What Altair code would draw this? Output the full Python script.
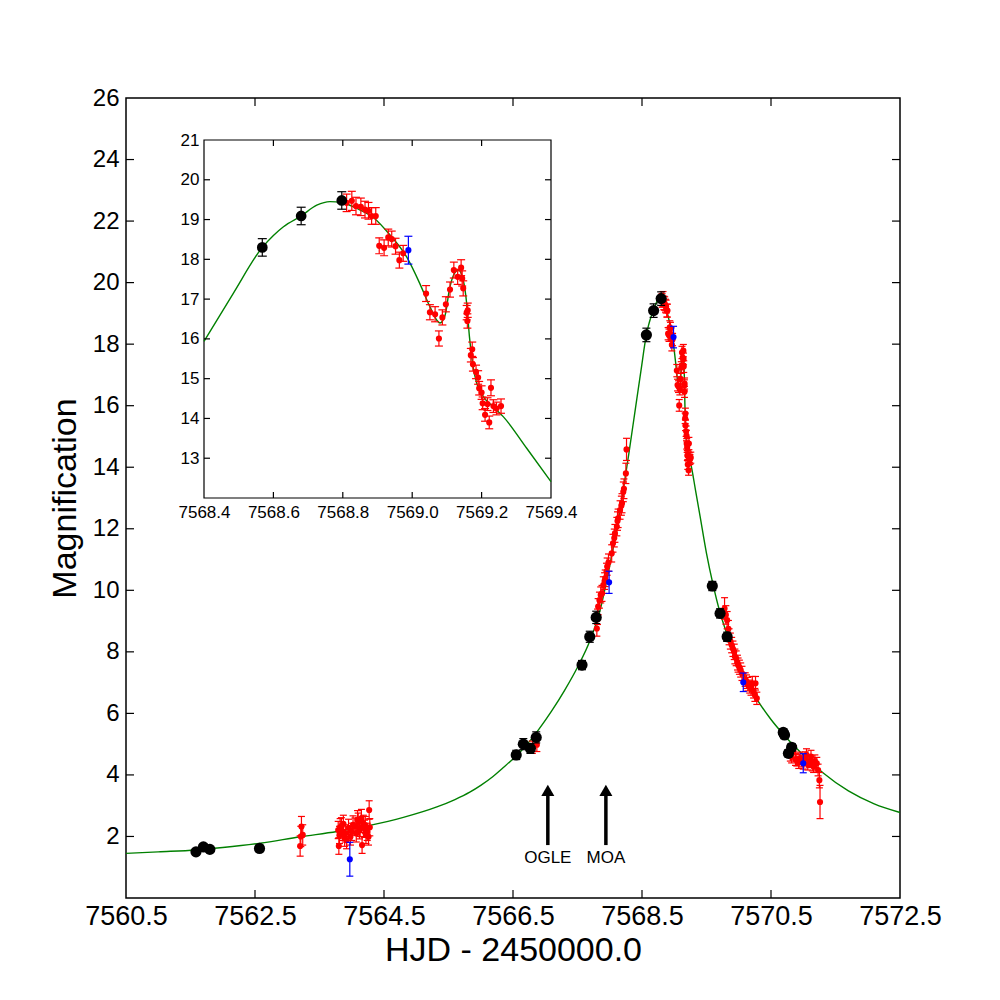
import altair as alt
import pandas as pd

FONT = "Liberation Sans"

# ---------------- values ----------------
# black (large) points
black_t = [7561.585, 7561.70, 7561.80, 7562.57, 7566.55, 7566.66, 7566.77, 7566.86,
           7567.57, 7567.69, 7567.79, 7568.568, 7568.68, 7568.797, 7569.59, 7569.71,
           7569.82, 7570.69, 7570.71, 7570.82, 7570.77]
black_m = [1.50, 1.66, 1.58, 1.61, 4.65, 5.00, 4.86, 5.22,
           7.57, 8.49, 9.12, 18.30, 19.09, 19.48, 10.14, 9.25,
           8.49, 5.38, 5.30, 4.90, 4.70]
black_e = [0.08, 0.08, 0.08, 0.10, 0.15, 0.18, 0.16, 0.18,
           0.15, 0.18, 0.20, 0.22, 0.22, 0.22, 0.15, 0.15,
           0.15, 0.12, 0.12, 0.12, 0.12]

# red points
red_t = [7563.20, 7563.21, 7563.22, 7563.24,
         7563.79, 7563.80, 7563.81, 7563.82, 7563.84, 7563.86, 7563.87, 7563.89, 7563.90, 7563.92,
         7563.95, 7563.98, 7564.00, 7564.02, 7564.05, 7564.07, 7564.09, 7564.10, 7564.12, 7564.13,
         7564.15, 7564.16, 7564.18, 7564.20, 7564.21, 7564.22, 7564.24, 7564.26, 7564.27, 7564.28,
         7566.80, 7566.87,
         7567.80, 7567.81, 7567.82, 7567.84, 7567.86, 7567.88, 7567.90, 7567.92, 7567.93, 7567.95,
         7567.96, 7567.98, 7568.03, 7568.05, 7568.07, 7568.08, 7568.11, 7568.12, 7568.13, 7568.16,
         7568.18, 7568.19, 7568.21, 7568.22, 7568.25, 7568.26,
         7568.811, 7568.826, 7568.838, 7568.852, 7568.864, 7568.874, 7568.883, 7568.895, 7568.905,
         7568.919, 7568.931, 7568.941, 7568.952, 7568.963, 7568.974, 7569.040, 7569.051, 7569.066,
         7569.077, 7569.087, 7569.097, 7569.109, 7569.120, 7569.131, 7569.141, 7569.144, 7569.147,
         7569.157, 7569.160, 7569.159, 7569.173, 7569.169, 7569.175, 7569.184, 7569.190, 7569.193,
         7569.200, 7569.203, 7569.210, 7569.217, 7569.222, 7569.227, 7569.234, 7569.243, 7569.256,
         7569.78, 7569.80, 7569.82, 7569.84, 7569.85, 7569.87, 7569.89, 7569.91, 7569.93, 7569.94,
         7569.96, 7569.98, 7569.99, 7570.01, 7570.03, 7570.05, 7570.10, 7570.12, 7570.14, 7570.17,
         7570.19, 7570.21, 7570.23, 7570.25, 7570.26, 7570.28,
         7570.80, 7570.82, 7570.85, 7570.88, 7570.90, 7570.93, 7570.95, 7570.98, 7571.00, 7571.03,
         7571.05, 7571.07, 7571.10, 7571.12, 7571.14, 7571.16, 7571.18, 7571.21, 7571.23, 7571.25,
         7571.26]
red_m = [1.69, 2.00, 2.32, 2.05,
         2.21, 1.69, 2.05, 2.30, 2.32, 2.15, 2.41, 1.95, 2.10, 1.88,
         2.28, 1.99, 2.15, 2.38, 2.32, 2.10, 2.55, 2.48, 2.20, 2.28,
         2.59, 1.72, 2.41, 2.25, 2.37, 2.05, 2.15, 1.99, 2.86, 2.30,
         4.90, 4.98,
         8.76, 9.14, 9.47, 9.68, 9.85, 9.90, 10.17, 10.30, 10.39, 10.61,
         10.77, 10.90, 11.20, 11.53, 11.70, 11.85, 12.07, 12.25, 12.34, 12.61,
         12.75, 12.83, 13.20, 13.30, 13.80, 14.58,
         19.42, 19.47, 19.34, 19.32, 19.25, 19.22, 19.09, 19.09, 18.34,
         18.29, 18.55, 18.51, 18.33, 17.98, 18.15, 17.14, 16.67, 16.62,
         16.01, 16.54, 16.87, 17.24, 17.73, 17.56, 17.79, 17.52, 17.27,
         16.66, 16.72, 16.45, 15.74, 15.59, 15.36, 15.17, 15.03, 14.76,
         14.65, 14.38, 14.09, 14.36, 13.90, 14.77, 14.31, 14.25, 14.31,
         9.41, 9.20, 9.03, 8.75, 8.49, 8.35, 8.22, 8.10, 8.00, 7.85,
         7.79, 7.65, 7.57, 7.50, 7.41, 7.30, 7.10, 7.03, 6.95, 6.87,
         6.80, 6.98, 6.71, 6.60, 6.98, 6.49,
         4.65, 4.59, 4.75, 4.50, 4.48, 4.40, 4.54, 4.45, 4.38, 4.55,
         4.65, 4.35, 4.43, 4.60, 4.32, 4.27, 4.45, 4.38, 4.16, 3.83,
         3.12]
red_e = [0.33, 0.33, 0.33, 0.33,
         0.28, 0.27, 0.28, 0.28, 0.29, 0.28, 0.28, 0.27, 0.28, 0.28,
         0.28, 0.27, 0.28, 0.29, 0.28, 0.28, 0.29, 0.28, 0.28, 0.28,
         0.29, 0.27, 0.28, 0.28, 0.28, 0.28, 0.28, 0.27, 0.30, 0.28,
         0.20, 0.22,
         0.25, 0.25, 0.26, 0.26, 0.26, 0.26, 0.27, 0.27, 0.27, 0.27,
         0.28, 0.28, 0.28, 0.29, 0.29, 0.29, 0.30, 0.30, 0.30, 0.30,
         0.31, 0.31, 0.32, 0.32, 0.33, 0.36,
         0.22, 0.24, 0.22, 0.22, 0.21, 0.21, 0.21, 0.21, 0.20,
         0.20, 0.21, 0.20, 0.20, 0.20, 0.20, 0.20, 0.19, 0.19,
         0.19, 0.19, 0.19, 0.19, 0.20, 0.19, 0.20, 0.19, 0.19,
         0.18, 0.18, 0.18, 0.18, 0.17, 0.17, 0.17, 0.17, 0.17,
         0.17, 0.16, 0.16, 0.16, 0.16, 0.20, 0.16, 0.16, 0.18,
         0.35, 0.30, 0.28, 0.27, 0.26, 0.26, 0.25, 0.25, 0.25, 0.24,
         0.24, 0.24, 0.23, 0.23, 0.23, 0.23, 0.22, 0.22, 0.22, 0.21,
         0.21, 0.22, 0.21, 0.21, 0.22, 0.20,
         0.20, 0.20, 0.20, 0.19, 0.19, 0.19, 0.20, 0.19, 0.19, 0.20,
         0.20, 0.19, 0.19, 0.20, 0.19, 0.19, 0.20, 0.19, 0.19, 0.25,
         0.54]

# blue points
blue_t = [7563.97, 7567.99, 7568.989, 7570.07, 7571.00]
blue_m = [1.26, 10.26, 18.23, 7.01, 4.38]
blue_e = [0.55, 0.36, 0.35, 0.30, 0.31]

# model curve (green)
model_left_t = [7560.5, 7561.0, 7561.585, 7562.0, 7562.58, 7563.2, 7563.77, 7564.28, 7564.8,
                7565.32, 7565.6, 7565.83, 7566.0, 7566.19, 7566.35, 7566.5, 7566.7, 7566.9,
                7567.1, 7567.3, 7567.5, 7567.7, 7567.85, 7568.0, 7568.15, 7568.3]
model_left_m = [1.45, 1.50, 1.56, 1.64, 1.78, 1.99, 2.16, 2.36, 2.62,
                2.96, 3.20, 3.44, 3.66, 3.95, 4.24, 4.52, 4.95, 5.48,
                6.08, 6.75, 7.50, 8.40, 9.35, 10.80, 12.50, 14.50]
inset_model_t = [7568.40, 7568.484, 7568.568, 7568.60, 7568.629, 7568.68, 7568.725, 7568.763,
                 7568.797, 7568.84, 7568.888, 7568.936, 7568.984, 7569.022, 7569.051, 7569.071,
                 7569.080, 7569.095, 7569.107, 7569.119, 7569.133, 7569.147, 7569.157, 7569.165,
                 7569.174, 7569.186, 7569.205, 7569.234, 7569.263, 7569.330, 7569.40]
inset_model_m = [15.94, 17.14, 18.30, 18.60, 18.82, 19.09, 19.36, 19.45,
                 19.43, 19.28, 19.05, 18.61, 18.06, 17.39, 16.81, 16.47,
                 16.40, 16.60, 17.23, 17.60, 17.73, 17.48, 16.89, 16.05,
                 15.38, 14.88, 14.55, 14.29, 14.04, 13.25, 12.41]
model_right_t = [7569.5, 7569.6, 7569.7, 7569.8, 7569.9, 7570.0, 7570.15, 7570.3, 7570.5,
                 7570.7, 7571.0, 7571.3, 7571.7, 7572.1, 7572.5]
model_right_m = [11.20, 10.20, 9.35, 8.68, 8.12, 7.62, 6.95, 6.40, 5.80,
                 5.30, 4.65, 4.08, 3.48, 3.06, 2.78]

# axes / ticks
main_xdom = [7560.5, 7572.5]
main_ydom = [0, 26]
main_xticks = [7560.5, 7562.5, 7564.5, 7566.5, 7568.5, 7570.5, 7572.5]
main_yticks = [2, 4, 6, 8, 10, 12, 14, 16, 18, 20, 22, 24, 26]
inset_xdom = [7568.4, 7569.4]
inset_ydom = [12, 21]
inset_xticks = [7568.4, 7568.6, 7568.8, 7569.0, 7569.2, 7569.4]
inset_yticks = [13, 14, 15, 16, 17, 18, 19, 20, 21]

# annotations
arrow_t = [7567.04, 7567.94]
arrow_labels = ["OGLE", "MOA"]
arrow_base = [1.72, 1.72]
arrow_top = [3.40, 3.40]
arrow_tip = [3.50, 3.50]
label_m = [1.30, 1.30]

# ---------------- tables ----------------
def pts(t, m, e):
    df = pd.DataFrame({"t": t, "m": m, "e": e})
    df["lo"] = df["m"] - df["e"]
    df["hi"] = df["m"] + df["e"]
    return df

black_df = pts(black_t, black_m, black_e)
red_df = pts(red_t, red_m, red_e)
blue_df = pts(blue_t, blue_m, blue_e)
model_df = pd.DataFrame({"t": model_left_t + inset_model_t + model_right_t,
                         "m": model_left_m + inset_model_m + model_right_m})
inset_model_df = pd.DataFrame({"t": inset_model_t, "m": inset_model_m})
arrows_df = pd.DataFrame({"t": arrow_t, "base": arrow_base, "top": arrow_top,
                          "tip": arrow_tip, "ly": label_m, "label": arrow_labels})

# ---------------- scales and axes ----------------
W, H = 774, 800
mx = alt.Scale(domain=main_xdom, nice=False, zero=False)
my = alt.Scale(domain=main_ydom, nice=False, zero=False)
ix = alt.Scale(domain=inset_xdom, nice=False, zero=False, range=[78, 425])
iy = alt.Scale(domain=inset_ydom, nice=False, zero=False, range=[400, 42])

common = dict(ticks=False, tickSize=0, domain=False, grid=False, labelColor="black",
              labelFont=FONT, labelFlush=False, labelOverlap=False)
main_xaxis = alt.Axis(values=main_xticks, format=".1f", labelFontSize=27, labelPadding=5,
                      title="HJD - 2450000.0", titleFontSize=34, titleFontWeight="normal",
                      titleColor="black", titleFont=FONT, titlePadding=4, **common)
main_yaxis = alt.Axis(values=main_yticks, format="d", labelFontSize=24, labelPadding=7,
                      title="Magnification", titleFontSize=34, titleFontWeight="normal",
                      titleColor="black", titleFont=FONT, titlePadding=10, **common)
inset_xaxis = alt.Axis(orient="bottom", offset=-(H - 400), values=inset_xticks, format=".1f",
                       labelFontSize=17, labelPadding=6, title=None, **common)
inset_yaxis = alt.Axis(orient="left", offset=-78, values=inset_yticks, format="d",
                       labelFontSize=17, labelPadding=5, title=None, **common)

PANELS = {
    "main": (mx, my, main_xaxis, main_yaxis),
    "inset": (ix, iy, inset_xaxis, inset_yaxis),
}


def enc(panel):
    xs, ys, xa, ya = PANELS[panel]
    X = lambda f: alt.X(f, type="quantitative", scale=xs, axis=xa)
    Y = lambda f: alt.Y(f, type="quantitative", scale=ys, axis=ya)
    return X, Y


def series_layers(df, color, size, cap, sw, panel, flt=None):
    X, Y = enc(panel)
    base = alt.Chart(df)
    if flt is not None:
        base = base.transform_filter(flt)
    rule = base.mark_rule(color=color, strokeWidth=sw).encode(x=X("t"), y=Y("lo"), y2="hi")
    caps = base.transform_fold(["lo", "hi"], as_=["k", "v"]).mark_tick(
        color=color, orient="horizontal", size=cap, thickness=sw, opacity=1
    ).encode(x=X("t"), y=Y("v"))
    dots = base.mark_circle(color=color, size=size, opacity=1).encode(x=X("t"), y=Y("m"))
    return [rule, caps, dots]


def tick_layers(xticks, yticks, xdom, ydom, panel, length):
    X, Y = enc(panel)
    xt = pd.DataFrame({"t": xticks})
    xt["lo"] = ydom[0]
    xt["hi"] = ydom[1]
    yt = pd.DataFrame({"v": yticks})
    yt["l"] = xdom[0]
    yt["r"] = xdom[1]
    st = dict(color="black", strokeWidth=1.2)
    return [
        alt.Chart(xt).mark_rule(y2Offset=-length, **st).encode(x=X("t"), y=Y("lo"), y2="lo"),
        alt.Chart(xt).mark_rule(y2Offset=length, **st).encode(x=X("t"), y=Y("hi"), y2="hi"),
        alt.Chart(yt).mark_rule(x2Offset=length, **st).encode(y=Y("v"), x=X("l"), x2="l"),
        alt.Chart(yt).mark_rule(x2Offset=-length, **st).encode(y=Y("v"), x=X("r"), x2="r"),
    ]


# ---------------- main panel ----------------
mX, mY = enc("main")
main_curve = alt.Chart(model_df).mark_line(color="#008000", strokeWidth=1.4,
                                           interpolate="monotone").encode(x=mX("t"), y=mY("m"))
arrow_shaft = alt.Chart(arrows_df).mark_rule(color="black", strokeWidth=3.5).encode(
    x=mX("t"), y=mY("base"), y2="top")
arrow_head = alt.Chart(arrows_df).mark_point(shape="triangle-up", filled=True, size=170,
                                             color="black", opacity=1).encode(x=mX("t"), y=mY("tip"))
arrow_text = alt.Chart(arrows_df).mark_text(fontSize=17, font=FONT, color="black",
                                            baseline="middle", align="center").encode(
    x=mX("t"), y=mY("ly"), text="label")

main_layers = ([main_curve]
               + series_layers(red_df, "#ff0000", 38, 7, 1.2, "main")
               + series_layers(blue_df, "#0000ff", 38, 7, 1.2, "main")
               + series_layers(black_df, "black", 125, 8, 1.2, "main")
               + tick_layers(main_xticks[1:-1], main_yticks[:-1], main_xdom, main_ydom, "main", 8)
               + [arrow_shaft, arrow_head, arrow_text])
main = alt.layer(*main_layers)

# ---------------- inset panel ----------------
iX, iY = enc("inset")
frame_df = pd.DataFrame({"x0": [inset_xdom[0]], "x1": [inset_xdom[1]],
                         "y0": [inset_ydom[0]], "y1": [inset_ydom[1]]})
inset_frame = alt.Chart(frame_df).mark_rect(fill="white", stroke="black", strokeWidth=1.2).encode(
    x=iX("x0"), x2="x1", y=iY("y0"), y2="y1")
inset_curve = alt.Chart(inset_model_df).mark_line(color="#008000", strokeWidth=1.4,
                                                  interpolate="monotone").encode(x=iX("t"), y=iY("m"))
in_range = alt.FieldRangePredicate(field="t", range=inset_xdom)
inset_layers = ([inset_frame, inset_curve]
                + series_layers(red_df, "#ff0000", 38, 8, 1.2, "inset", in_range)
                + series_layers(blue_df, "#0000ff", 38, 8, 1.2, "inset", in_range)
                + series_layers(black_df, "black", 115, 9, 1.2, "inset", in_range)
                + tick_layers(inset_xticks[1:-1], inset_yticks[:-1], inset_xdom, inset_ydom, "inset", 6))
inset = alt.layer(*inset_layers)

chart = alt.layer(main, inset).resolve_scale(x="independent", y="independent").properties(
    width=W, height=H,
    autosize=alt.AutoSizeParams(type="none"),
    padding={"left": 118, "top": 90, "right": 70, "bottom": 90},
).configure(font=FONT).configure_view(stroke="black", strokeWidth=1.5)

chart.save("out.html", embed_options={"renderer": "svg", "actions": False})
